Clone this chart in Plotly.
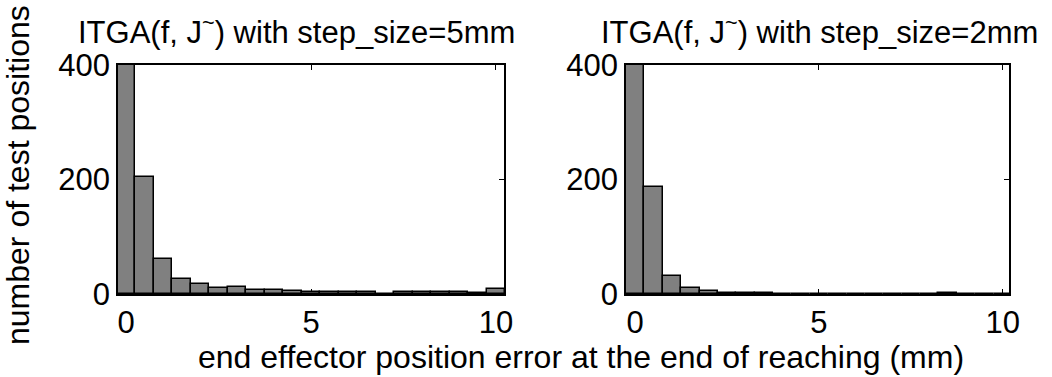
import plotly.graph_objects as go

# Bin centres (mm) shared by both histograms
bin_centers = [0.0, 0.5, 1.0, 1.5, 2.0, 2.5, 3.0, 3.5, 4.0, 4.5, 5.0,
               5.5, 6.0, 6.5, 7.0, 7.5, 8.0, 8.5, 9.0, 9.5, 10.0]

# Counts (first bin exceeds the 400 axis limit and is clipped in the original)
counts_5mm = [620, 205, 61, 27, 17, 10, 12, 7, 7, 5, 4,
              3, 4, 3, 0, 3, 4, 3, 3, 2, 8]
counts_2mm = [700, 187, 32, 11, 5, 2, 1, 1, 0, 0, 0,
              0, 0, 0, 0, 0, 0, 1, 0, 0, 0]

titles = ["ITGA(f, J<sup>~</sup>) with step_size=5mm",
          "ITGA(f, J<sup>~</sup>) with step_size=2mm"]
x_tick_vals = [0, 5, 10]
y_tick_vals = [0, 200, 400]
x_label = "end effector position error at the end of reaching (mm)"
y_label = "number of test positions"

W, H = 1052, 377
FONT = "Liberation Sans, Arial, Helvetica, sans-serif"
FS = 31
FS_LABEL = 32

fig = go.Figure()
fig.add_trace(go.Bar(x=bin_centers, y=counts_5mm, width=0.5,
                     marker=dict(color="#808080", line=dict(color="black", width=1.5)),
                     xaxis="x", yaxis="y", showlegend=False))
fig.add_trace(go.Bar(x=bin_centers, y=counts_2mm, width=0.5,
                     marker=dict(color="#808080", line=dict(color="black", width=1.5)),
                     xaxis="x2", yaxis="y2", showlegend=False))

def px_x(p):
    return p / W

def px_y(p):
    return (H - p) / H

ydom = [px_y(294), px_y(65)]

common_x = dict(tickmode="array", tickvals=x_tick_vals, ticks="inside", ticklen=5,
                tickwidth=1.2, tickcolor="black", showline=True, linecolor="black",
                linewidth=1.5, mirror="ticks", showgrid=False, zeroline=False,
                automargin=False,
                tickfont=dict(family=FONT, size=FS, color="black"), layer="below traces")
common_y = dict(tickmode="array", tickvals=y_tick_vals, ticks="inside", ticklen=5,
                tickwidth=1.2, tickcolor="black", showline=True, linecolor="black",
                linewidth=1.5, mirror="ticks", showgrid=False, zeroline=False,
                automargin=False, range=[0, 400], domain=ydom,
                tickfont=dict(family=FONT, size=FS, color="black"), layer="below traces")

fig.update_layout(
    width=W, height=H,
    margin=dict(l=0, r=0, t=0, b=0, autoexpand=False),
    paper_bgcolor="white", plot_bgcolor="white",
    bargap=0,
    font=dict(family=FONT, size=FS, color="black"),
    xaxis=dict(common_x, domain=[px_x(118), px_x(504)], range=[-0.22, 10.22], anchor="y"),
    yaxis=dict(common_y, anchor="x"),
    xaxis2=dict(common_x, domain=[px_x(626), px_x(1009)], range=[-0.25, 10.17], anchor="y2"),
    yaxis2=dict(common_y, anchor="x2"),
)

annotations = [
    dict(text=titles[0], x=px_x(296), y=px_y(30), xref="paper", yref="paper",
         xanchor="center", yanchor="middle", showarrow=False,
         font=dict(family=FONT, size=FS, color="black")),
    dict(text=titles[1], x=px_x(819), y=px_y(30), xref="paper", yref="paper",
         xanchor="center", yanchor="middle", showarrow=False,
         font=dict(family=FONT, size=FS, color="black")),
    dict(text=x_label, x=px_x(581), y=px_y(357), xref="paper", yref="paper",
         xanchor="center", yanchor="middle", showarrow=False,
         font=dict(family=FONT, size=FS_LABEL, color="black")),
    dict(text=y_label, x=px_x(18), y=px_y(175), xref="paper", yref="paper",
         xanchor="center", yanchor="middle", showarrow=False, textangle=-90,
         font=dict(family=FONT, size=FS_LABEL, color="black")),
]
fig.update_layout(annotations=annotations)

fig.write_html("out.html")
